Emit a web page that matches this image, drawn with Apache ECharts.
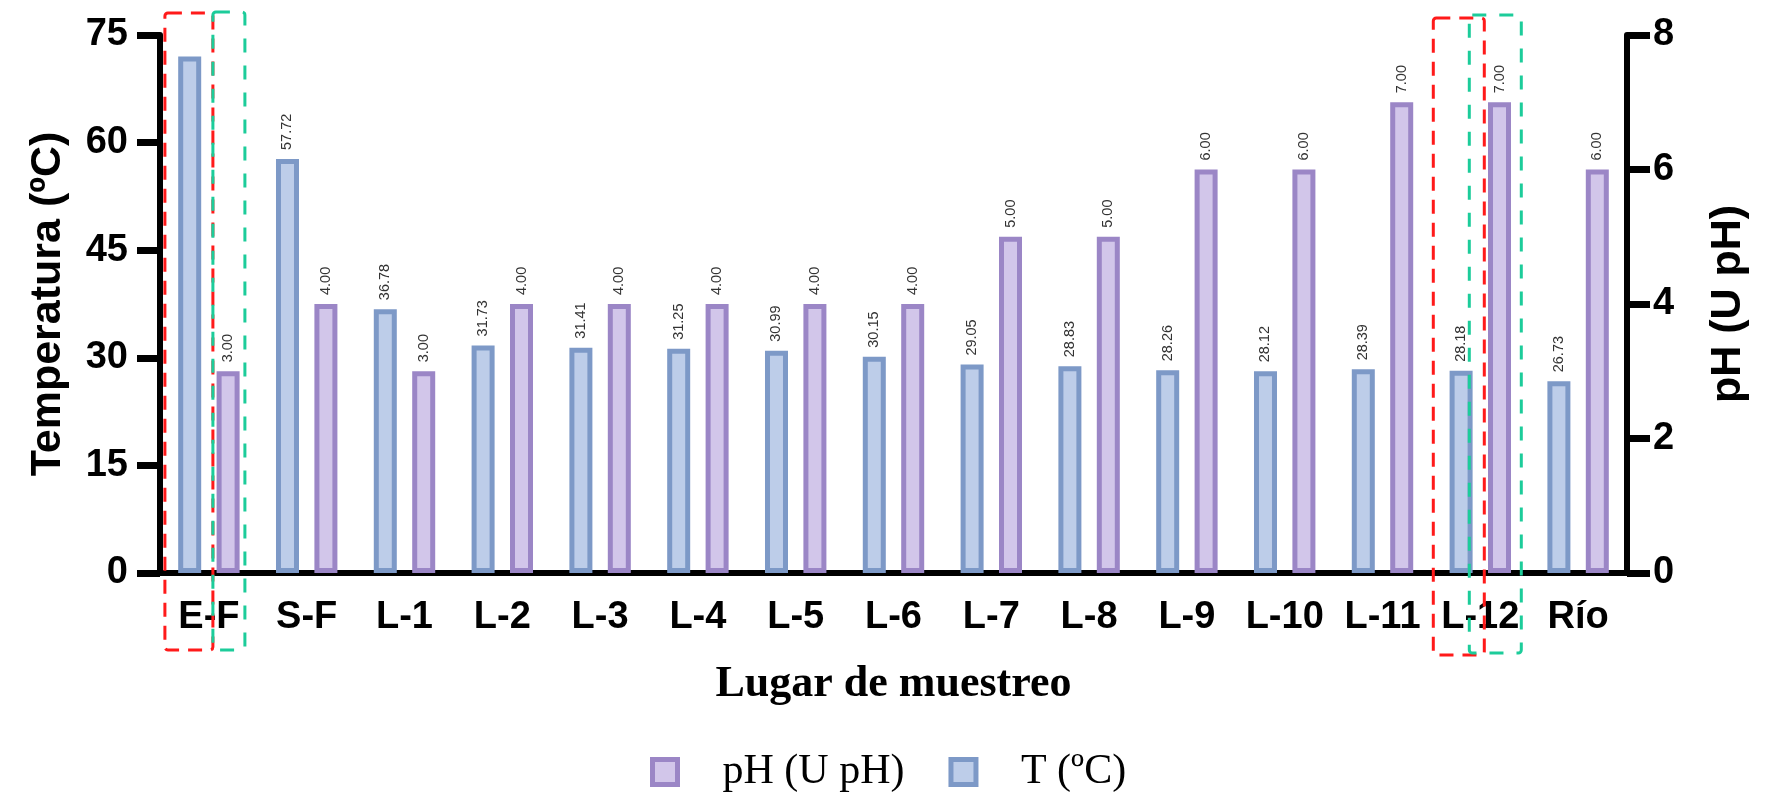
<!DOCTYPE html>
<html>
<head>
<meta charset="utf-8">
<script src="https://cdn.jsdelivr.net/npm/echarts@6/dist/echarts.min.js"></script>
<style>
html,body{margin:0;padding:0;background:#fff;}
#chart{width:1778px;height:794px;}
</style>
</head>
<body>
<div id="chart"></div>
<script>
const categories = ['E-F','S-F','L-1','L-2','L-3','L-4','L-5','L-6','L-7','L-8','L-9','L-10','L-11','L-12','Río'];
const temperature = [72.0, 57.72, 36.78, 31.73, 31.41, 31.25, 30.99, 30.15, 29.05, 28.83, 28.26, 28.12, 28.39, 28.18, 26.73];
const ph = [3.00, 4.00, 3.00, 4.00, 4.00, 4.00, 4.00, 4.00, 5.00, 5.00, 6.00, 6.00, 7.00, 7.00, 6.00];
const tempAxis = {min: 0, max: 75, interval: 15};
const phAxis = {min: 0, max: 8, interval: 2};
const seriesNames = ['T (ºC)', 'pH (U pH)'];
const legendOrder = ['pH (U pH)', 'T (ºC)'];
const hiddenTempLabels = ['E-F'];
const annotatedCategories = ['E-F', 'L-12'];

const chart = echarts.init(document.getElementById('chart'), null, {renderer: 'canvas'});

const labelStyle = {
  show: true,
  position: 'top',
  rotate: 90,
  align: 'left',
  verticalAlign: 'middle',
  distance: 9,
  fontSize: 14.5,
  color: '#333',
  fontFamily: 'Liberation Sans',
  formatter: p => Number(p.value).toFixed(2)
};

const axisLineStyle = {color: '#000', width: 6};
const axisLabelFont = {color: '#000', fontSize: 38, fontWeight: 'bold', fontFamily: 'Liberation Sans'};

const option = {
  backgroundColor: '#fff',
  animation: false,
  grid: {left: 160, right: 151, top: 35, bottom: 221, containLabel: false},
  legend: {
    data: legendOrder,
    top: 746,
    left: 645,
    itemWidth: 25,
    itemHeight: 25,
    itemGap: 44,
    icon: 'rect',
    itemStyle: {borderWidth: 5},
    textStyle: {fontFamily: 'Liberation Serif', fontSize: 42, color: '#000', padding: [0, 0, 0, 40]}
  },
  xAxis: {
    type: 'category',
    data: categories,
    name: 'Lugar de muestreo',
    nameLocation: 'middle',
    nameGap: 90,
    nameTextStyle: {fontFamily: 'Liberation Serif', fontWeight: 'bold', fontSize: 44, color: '#000'},
    axisLine: {lineStyle: axisLineStyle},
    axisTick: {alignWithLabel: true, length: 10, lineStyle: {color: '#000', width: 4}},
    axisLabel: Object.assign({margin: 26, interval: 0}, axisLabelFont),
    splitLine: {show: false}
  },
  yAxis: [
    {
      type: 'value',
      position: 'left',
      min: tempAxis.min, max: tempAxis.max, interval: tempAxis.interval,
      name: 'Temperatura (ºC)',
      nameLocation: 'middle',
      nameRotate: 90,
      nameGap: 90,
      nameTextStyle: {fontFamily: 'Liberation Sans', fontWeight: 'bold', fontSize: 43, color: '#000'},
      axisLine: {show: true, lineStyle: axisLineStyle},
      axisTick: {show: true, length: 23, lineStyle: {color: '#000', width: 7}},
      axisLabel: Object.assign({margin: 32}, axisLabelFont),
      splitLine: {show: false}
    },
    {
      type: 'value',
      position: 'right',
      min: phAxis.min, max: phAxis.max, interval: phAxis.interval,
      name: 'pH (U pH)',
      nameLocation: 'middle',
      nameRotate: 90,
      nameGap: 80,
      nameTextStyle: {fontFamily: 'Liberation Sans', fontWeight: 'bold', fontSize: 43, color: '#000'},
      axisLine: {show: true, lineStyle: axisLineStyle},
      axisTick: {show: true, length: 23, lineStyle: {color: '#000', width: 7}},
      axisLabel: Object.assign({margin: 26}, axisLabelFont),
      splitLine: {show: false}
    }
  ],
  series: [
    {
      name: seriesNames[0],
      type: 'bar',
      yAxisIndex: 0,
      barWidth: 23,
      barGap: '67%',
      data: temperature.map((v, i) => hiddenTempLabels.includes(categories[i]) ? {value: v, label: {show: false}} : v),
      itemStyle: {color: '#bdcde9', borderColor: '#7d99c7', borderWidth: 5},
      label: labelStyle
    },
    {
      name: seriesNames[1],
      type: 'bar',
      yAxisIndex: 1,
      barWidth: 23,
      barGap: '67%',
      data: ph,
      itemStyle: {color: '#d2c6ea', borderColor: '#9b86c6', borderWidth: 5},
      label: labelStyle
    }
  ]
};

chart.setOption(option);

// Dashed annotation boxes, positioned from the axes' own scales
function drawAnnotations() {
  const yTop = chart.convertToPixel({yAxisIndex: 0}, tempAxis.max);
  const yBot = chart.convertToPixel({yAxisIndex: 0}, tempAxis.min);
  const els = [];
  const specs = {
    'E-F': [
      {color: '#ff1a1a', x0: -44, x1: 4, t: -22, b: 77, period: [14, 9]},
      {color: '#1ccc9a', x0: 4, x1: 36, t: -23, b: 77, period: [14, 13]}
    ],
    'L-12': [
      {color: '#ff1a1a', x0: -47, x1: 4, t: -17, b: 82, period: [14, 9]},
      {color: '#1ccc9a', x0: -11, x1: 41, t: -20, b: 80, period: [14, 13]}
    ]
  };
  annotatedCategories.forEach(cat => {
    const cx = chart.convertToPixel({xAxisIndex: 0}, cat);
    specs[cat].forEach(s => {
      els.push({
        type: 'rect',
        z: 100,
        shape: {x: cx + s.x0, y: yTop + s.t, width: s.x1 - s.x0, height: (yBot + s.b) - (yTop + s.t), r: 3},
        style: {fill: 'none', stroke: s.color, lineWidth: 3, lineDash: s.period}
      });
    });
  });
  chart.setOption({graphic: els});
}
drawAnnotations();
</script>
</body>
</html>
